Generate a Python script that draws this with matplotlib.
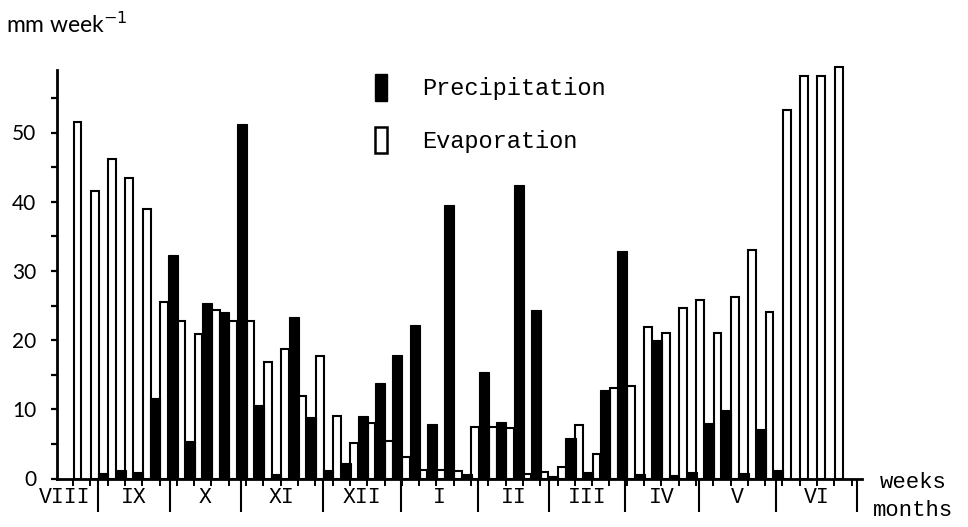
import numpy as np
import matplotlib
matplotlib.use("Agg")
import matplotlib.pyplot as plt
from matplotlib.patches import Rectangle
from matplotlib.transforms import blended_transform_factory

# weekly values, mm per week (mid-August to end of June)
evaporation = [51.5, 41.6, 46.1, 43.4, 39.0, 25.5, 22.8, 20.9, 24.4, 22.8,
               22.8, 16.9, 18.7, 11.9, 17.7, 9.1, 5.1, 8.0, 5.4, 3.1,
               1.2, 1.2, 1.1, 7.4, 7.5, 7.3, 0.7, 0.9, 1.6, 7.8,
               3.5, 13.1, 13.3, 21.9, 21.0, 24.6, 25.8, 21.0, 26.2, 33.0,
               24.0, 53.3, 58.2, 58.2, 59.5]
precipitation = [0.0, 0.8, 1.3, 0.9, 11.6, 32.3, 5.4, 25.3, 24.1, 51.3,
                 10.6, 0.7, 23.3, 8.9, 1.3, 2.2, 9.0, 13.8, 17.8, 22.2,
                 7.9, 39.5, 0.7, 15.4, 8.2, 42.4, 24.3, 0.4, 5.8, 0.9,
                 12.8, 32.9, 0.7, 20.0, 0.5, 0.9, 8.0, 9.9, 0.8, 7.2,
                 1.2, 0.0, 0.0, 0.0, 0.0]

# month labels and the week position where each month starts (last = end of June)
months = ["VIII", "IX", "X", "XI", "XII", "I", "II", "III", "IV", "V", "VI"]
month_edges = [-2.7, 1.2, 5.35, 9.45, 14.2, 18.7, 23.15, 27.25, 31.65, 35.9, 40.4, 45.05]

y_major = [0, 10, 20, 30, 40, 50]
y_minor = [5, 15, 25, 35, 45, 55]

weeks = np.arange(len(evaporation))

fig = plt.figure(figsize=(9.68, 5.27), dpi=100)
ax = fig.add_axes([57 / 968, 1 - 478.5 / 527, (862 - 57) / 968, 415.2 / 527])

ax.bar(weeks, evaporation, width=0.45, color="white", edgecolor="black",
       linewidth=1.5, zorder=2)
ax.bar(weeks + 0.5, precipitation, width=0.58, color="black", edgecolor="black",
       linewidth=0.8, zorder=3)

ax.set_xlim(-1.18, 45.35)
ax.set_ylim(0, 60)

for s in ["top", "right"]:
    ax.spines[s].set_visible(False)
ax.spines["left"].set_linewidth(2.0)
ax.spines["bottom"].set_linewidth(2.0)
ax.spines["left"].set_bounds(0, 59)

ax.set_yticks(y_major)
ax.set_yticks(y_minor, minor=True)
ax.tick_params(axis="y", which="both", direction="out", length=4, width=1.6,
               labelsize=15, pad=11)
for lab in ax.get_yticklabels():
    lab.set_family("Lato")

# weekly ticks below the axis
ax.set_xticks(np.arange(len(evaporation) + 1) - 0.25)
ax.set_xticklabels([])
ax.tick_params(axis="x", direction="out", length=5, width=1.4)

# long month separators and month names
trans = blended_transform_factory(ax.transData, ax.transAxes)
ax.vlines(month_edges[1:], -0.08, 0, color="black", linewidth=1.5,
          transform=trans, clip_on=False)
for i, m in enumerate(months):
    mid = (month_edges[i] + month_edges[i + 1]) / 2
    ax.text(mid, -0.045, m, transform=trans, ha="center", va="center",
            fontsize=15.5, family="Liberation Mono")

fig.text(880 / 968, 1 - 483 / 527, "weeks", ha="left", va="center",
         fontsize=16, family="Liberation Mono")
fig.text(873 / 968, 1 - 510 / 527, "months", ha="left", va="center",
         fontsize=16, family="Liberation Mono")
fig.text(6 / 968, 1 - 24 / 527, r"mm week$^{-1}$", ha="left", va="center",
         fontsize=16.5, family="Lato")

handles = [Rectangle((0, 0), 1, 1, facecolor="black", edgecolor="black"),
           Rectangle((0, 0), 1, 1, facecolor="white", edgecolor="black", linewidth=1.8)]
leg = ax.legend(handles, ["Precipitation", "Evaporation"], loc="upper left",
                bbox_to_anchor=(361 / 968, 1 - 60 / 527), bbox_transform=fig.transFigure,
                frameon=False, handlelength=0.5, handleheight=1.35,
                handletextpad=1.5, labelspacing=1.1, borderpad=0.1,
                prop={"family": "Liberation Mono", "size": 17})

fig.savefig("out.png", dpi=100)
